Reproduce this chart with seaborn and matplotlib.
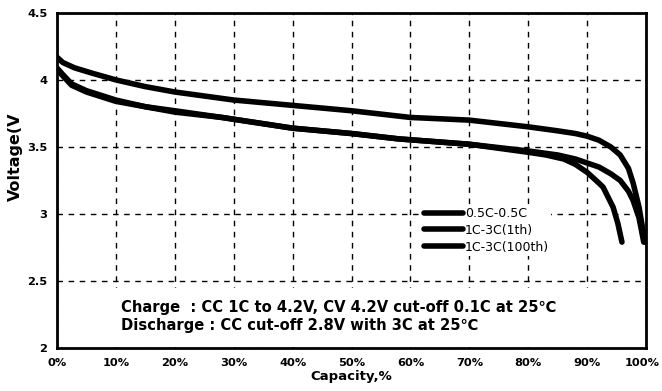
import matplotlib
matplotlib.use("Agg")
import matplotlib.pyplot as plt
import matplotlib.transforms as mtransforms
import seaborn as sns
import pandas as pd
import numpy as np
from matplotlib.patches import Rectangle

# Data (capacity %, voltage V)
cap_05 = [0, 1, 3, 6, 10, 15, 20, 30, 40, 50, 60, 70, 80, 85, 88, 90, 92, 94, 95.6, 97, 97.8, 98.8, 99.8]
v_05 = [4.17, 4.13, 4.09, 4.05, 4.00, 3.95, 3.91, 3.85, 3.81, 3.77, 3.72, 3.70, 3.65, 3.62, 3.60, 3.58, 3.55, 3.50, 3.44, 3.34, 3.23, 3.05, 2.79]

cap_1th = [0, 1, 2.5, 5, 10, 15, 20, 28, 40, 50, 58, 70, 80, 85, 88, 90, 92, 94, 95.6, 97, 97.8, 98.8, 99.6]
v_1th = [4.08, 4.03, 3.96, 3.91, 3.84, 3.80, 3.76, 3.72, 3.64, 3.60, 3.56, 3.52, 3.47, 3.44, 3.41, 3.38, 3.35, 3.30, 3.25, 3.17, 3.10, 2.97, 2.79]

cap_100th = [0, 1, 2.5, 5, 10, 15, 20, 28, 40, 50, 58, 70, 80, 83, 86, 88, 90, 92, 92.7, 94.4, 95.2, 95.9]
v_100th = [4.09, 4.04, 3.97, 3.92, 3.85, 3.80, 3.77, 3.72, 3.64, 3.60, 3.56, 3.52, 3.46, 3.44, 3.41, 3.37, 3.31, 3.23, 3.20, 3.05, 2.93, 2.79]

series_names = ["0.5C-0.5C", "1C-3C(1th)", "1C-3C(100th)"]
x_ticks = [0, 10, 20, 30, 40, 50, 60, 70, 80, 90, 100]
y_ticks = [2, 2.5, 3, 3.5, 4, 4.5]
y_tick_labels = ["2", "2.5", "3", "3.5", "4", "4.5"]
note_lines = ["Charge  : CC 1C to 4.2V, CV 4.2V cut-off 0.1C at 25\u2103",
              "Discharge : CC cut-off 2.8V with 3C at 25\u2103"]

frames = []
for name, xs, ys in zip(series_names, [cap_05, cap_1th, cap_100th], [v_05, v_1th, v_100th]):
    frames.append(pd.DataFrame({"Capacity": xs, "Voltage": ys, "Series": name}))
df = pd.concat(frames, ignore_index=True)

sns.set_style("white")
plt.rcParams['font.family'] = ['DejaVu Sans']
plt.rcParams['text.color'] = 'black'
plt.rcParams['axes.labelcolor'] = 'black'

fig = plt.figure(figsize=(6.62, 3.91), dpi=100)
ax = fig.add_axes([0.086, 0.110, 0.890, 0.857])

sns.lineplot(data=df, x="Capacity", y="Voltage", hue="Series", hue_order=series_names,
             palette=["black"] * 3, linewidth=4.0, sort=False, estimator=None,
             units="Series", ax=ax, legend=True, zorder=3)

ax.set_xlim(0, 100)
ax.set_ylim(2, 4.5)
ax.set_xticks(x_ticks)
ax.set_xticklabels([f"{t}%" for t in x_ticks])
ax.set_yticks(y_ticks)
ax.set_yticklabels(y_tick_labels)
ax.grid(True, color="black", linestyle=(0, (4, 4)), linewidth=1.0)
ax.set_axisbelow(True)
for s in ax.spines.values():
    s.set_color("black")
    s.set_linewidth(2.0)
    s.set_zorder(5)
ax.tick_params(direction="in", length=4, width=1, colors="black", labelsize=8.2, pad=7)
for lab in ax.get_xticklabels() + ax.get_yticklabels():
    lab.set_fontweight("bold")
# keep the "100%" label inside the figure, as in the original
last = ax.get_xticklabels()[-1]
last.set_transform(last.get_transform() + mtransforms.ScaledTranslation(-3 / 72, 0, fig.dpi_scale_trans))

# white area behind the notes (grid hidden there in the original)
ax.add_patch(Rectangle((0.3, 2.005), 99.4, 0.44, facecolor="white", edgecolor="none", zorder=1.5))

ax.set_xlabel("Capacity,%", fontsize=9.5, fontweight="bold", labelpad=2)
ax.set_ylabel("Voltage(V", fontsize=11.5, fontweight="bold")
ax.yaxis.set_label_coords(-0.058, 0.57)

leg = ax.legend(loc="upper left", bbox_to_anchor=(0.619, 0.428), frameon=True,
                handlelength=3.1, handletextpad=0.15, labelspacing=0.3, fontsize=9,
                borderpad=0.2, borderaxespad=0)
leg.get_frame().set_facecolor("white")
leg.get_frame().set_edgecolor("none")
leg.get_frame().set_alpha(1)
leg.set_zorder(4)
for line in leg.get_lines():
    line.set_linewidth(4.0)
for t in leg.get_texts():
    t.set_color("black")

ax.text(10.8, 2.30, note_lines[0], fontsize=10.6, fontweight="bold", va="center", ha="left", zorder=4)
ax.text(10.8, 2.165, note_lines[1], fontsize=10.6, fontweight="bold", va="center", ha="left", zorder=4)

fig.savefig("out.png", dpi=100)
